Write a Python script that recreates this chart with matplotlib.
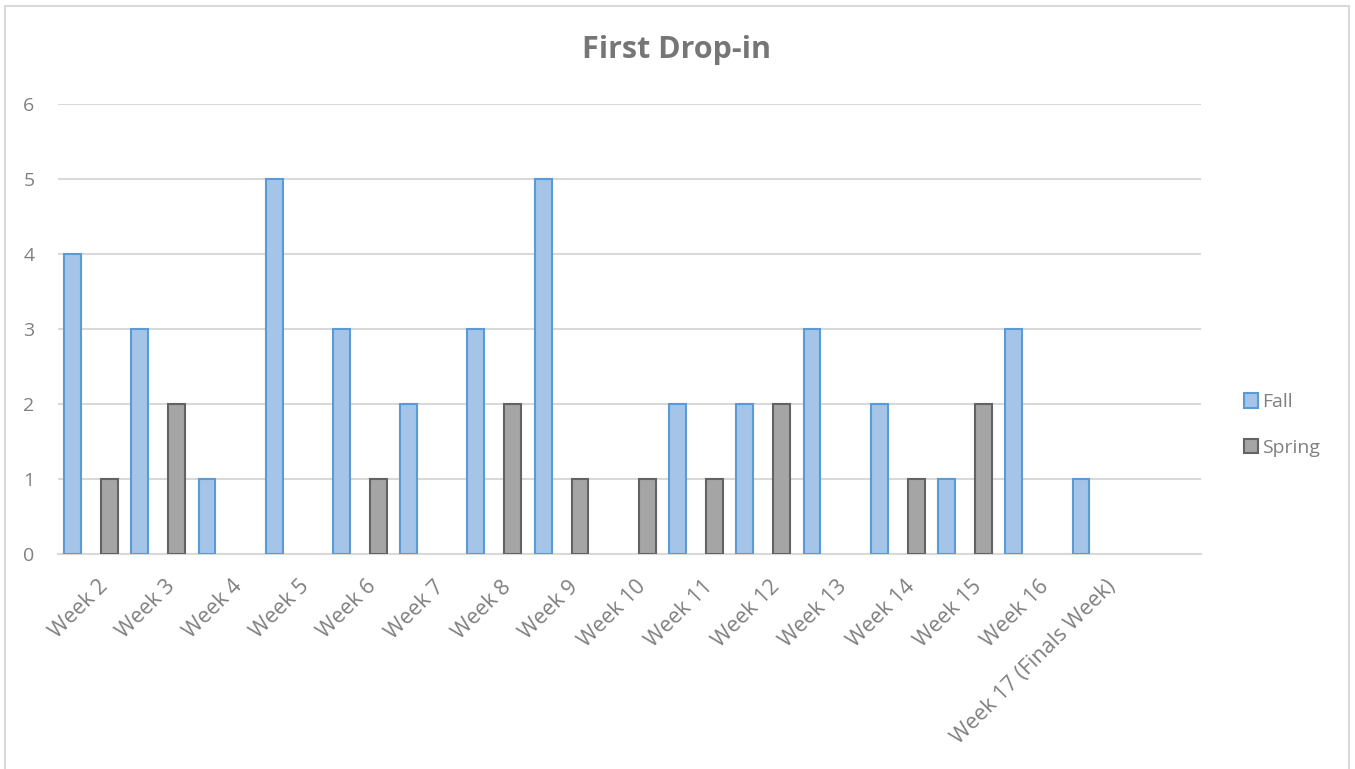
import numpy as np
import matplotlib.pyplot as plt
from matplotlib.patches import Rectangle

#######################################
# DATA

weeks = ["Week 2", "Week 3", "Week 4", "Week 5", "Week 6", "Week 7", "Week 8",
         "Week 9", "Week 10", "Week 11", "Week 12", "Week 13", "Week 14",
         "Week 15", "Week 16", "Week 17 (Finals Week)"]
fall = [4, 3, 1, 5, 3, 2, 3, 5, 0, 2, 2, 3, 2, 1, 3, 1]
spring = [1, 2, 0, 0, 1, 0, 2, 1, 1, 1, 2, 0, 1, 2, 0, 0]

#######################################
# PLOT

plt.rcParams['font.family'] = ['Open Sans', 'DejaVu Sans']

fig = plt.figure(figsize=(13.55, 7.69), dpi=100)
ax = fig.add_axes([58/1355, 1-554/769, (1201-58)/1355, (554-104)/769])

x = np.arange(len(weeks))
w = 0.25
b1 = ax.bar(x - 0.285, fall, w, color='#a4c5e8', edgecolor='#5b9bd5',
            linewidth=1.5, label='Fall', zorder=3)
b2 = ax.bar(x + 0.265, spring, w, color='#a5a5a5', edgecolor='#636363',
            linewidth=1.5, label='Spring', zorder=3)
# empty weeks: no outline line on the axis
for p in list(b1) + list(b2):
    if p.get_height() == 0:
        p.set_visible(False)

ax.set_xlim(-0.5, len(weeks) + 0.5)
ax.set_ylim(0, 6)
ax.set_yticks(range(7))
ax.yaxis.grid(True, color='#d9d9d9', linewidth=1.5, zorder=0)
ax.set_xticks(x + 0.08)
ax.set_xticklabels(weeks, rotation=45, ha='right', rotation_mode='anchor')
ax.tick_params(length=0, labelsize=14, colors='#808080')
ax.tick_params(axis='x', labelsize=15.5, pad=16)
ax.tick_params(axis='y', pad=17)
for s in ['top', 'right', 'left']:
    ax.spines[s].set_visible(False)
ax.spines['bottom'].set_color('#d9d9d9')
ax.spines['bottom'].set_linewidth(1.5)

fig.text(676/1355, 1-50/769, "First Drop-in", ha='center', va='center',
         fontsize=22, fontweight='bold', color='#767676')

fig.legend(loc='center left', bbox_to_anchor=(1226/1355, 1-425/769),
           frameon=False, fontsize=14, labelcolor='#808080',
           handlelength=0.75, handleheight=0.75, handletextpad=0.2,
           labelspacing=1.4)

fig.patches.append(Rectangle((5/1355, -0.01), (1349-5)/1355, 1.01 - 6/769,
                             transform=fig.transFigure, fill=False,
                             edgecolor='#d9d9d9', linewidth=1.5))

fig.savefig("out.png", dpi=100)
